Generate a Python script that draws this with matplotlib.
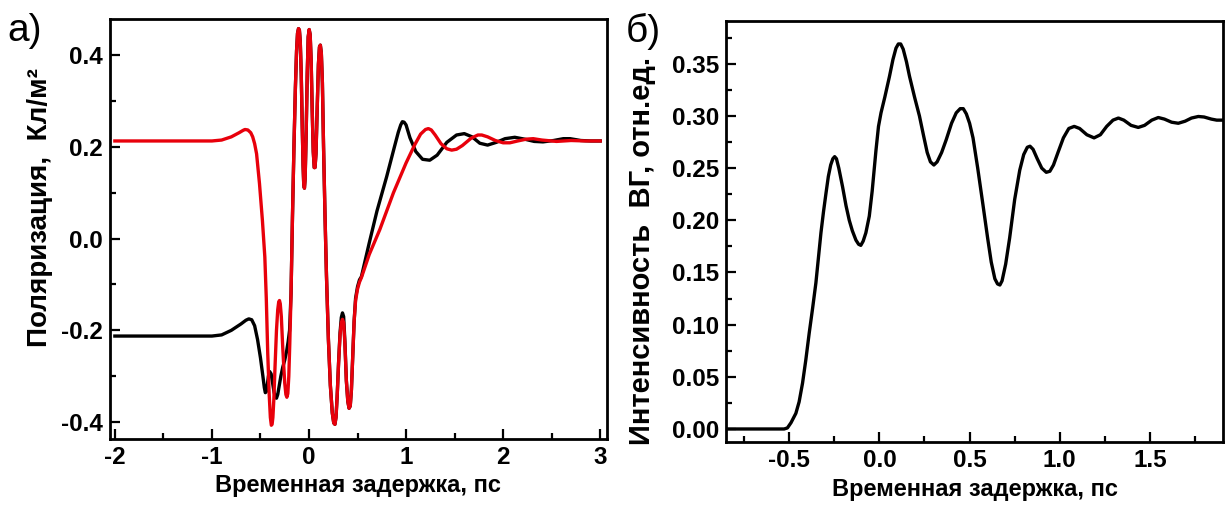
import matplotlib
matplotlib.use("Agg")
import matplotlib.pyplot as plt
from matplotlib.ticker import MultipleLocator, FormatStrFormatter

plt.rcParams['font.family'] = ['Liberation Sans', 'DejaVu Sans']

# ---- panel a): polarization vs delay ----
red_x = [-2.00, -1.50, -1.00, -0.90, -0.80, -0.72, -0.68, -0.66, -0.63, -0.60,
         -0.58, -0.56, -0.54, -0.51, -0.48, -0.455, -0.44, -0.425, -0.41, -0.398,
         -0.388, -0.38, -0.372, -0.362, -0.35, -0.335, -0.322, -0.312, -0.304, -0.296,
         -0.285, -0.27, -0.25, -0.238, -0.228, -0.218, -0.208, -0.198, -0.185, -0.17,
         -0.155, -0.14, -0.128, -0.118, -0.108, -0.099, -0.09, -0.08, -0.07, -0.061,
         -0.054, -0.047, -0.04, -0.03, -0.018, -0.008, 0.002, 0.012, 0.022, 0.033,
         0.044, 0.054, 0.062, 0.072, 0.084, 0.097, 0.108, 0.117, 0.127, 0.138,
         0.15, 0.165, 0.18, 0.20, 0.22, 0.24, 0.255, 0.267, 0.278, 0.29,
         0.305, 0.32, 0.333, 0.345, 0.357, 0.37, 0.385, 0.40, 0.413, 0.425,
         0.437, 0.45, 0.465, 0.48, 0.50, 0.52, 0.54, 0.62, 0.73, 0.87,
         1.00, 1.09, 1.15, 1.20, 1.23, 1.26, 1.30, 1.36, 1.42, 1.47,
         1.52, 1.58, 1.67, 1.74, 1.78, 1.84, 1.92, 2.00, 2.07, 2.15,
         2.24, 2.31, 2.40, 2.55, 2.70, 2.85, 3.00]
red_y = [0.213, 0.213, 0.213, 0.215, 0.222, 0.231, 0.236, 0.238, 0.237, 0.231,
         0.222, 0.207, 0.185, 0.12, 0.04, -0.04, -0.13, -0.25, -0.34, -0.39,
         -0.407, -0.405, -0.39, -0.35, -0.28, -0.20, -0.155, -0.138, -0.135, -0.142,
         -0.17, -0.24, -0.315, -0.34, -0.346, -0.338, -0.30, -0.23, -0.12, 0.05,
         0.20, 0.33, 0.41, 0.448, 0.458, 0.455, 0.43, 0.36, 0.25, 0.16,
         0.118, 0.11, 0.13, 0.22, 0.36, 0.44, 0.456, 0.445, 0.39, 0.28,
         0.19, 0.155, 0.155, 0.185, 0.28, 0.38, 0.418, 0.422, 0.405, 0.34,
         0.20, 0.05, -0.08, -0.22, -0.32, -0.38, -0.402, -0.405, -0.39, -0.345,
         -0.27, -0.21, -0.183, -0.176, -0.183, -0.23, -0.31, -0.355, -0.37, -0.365,
         -0.33, -0.26, -0.18, -0.135, -0.11, -0.095, -0.085, -0.035, 0.02, 0.10,
         0.165, 0.205, 0.228, 0.238, 0.240, 0.237, 0.226, 0.207, 0.196, 0.193,
         0.195, 0.203, 0.219, 0.226, 0.226, 0.222, 0.214, 0.209, 0.209, 0.213,
         0.217, 0.218, 0.215, 0.212, 0.214, 0.213, 0.213]

black_x = [-2.00, -1.50, -1.00, -0.90, -0.80, -0.70, -0.65, -0.62, -0.59, -0.56,
           -0.53, -0.50, -0.475, -0.46, -0.45, -0.44, -0.43, -0.418, -0.405, -0.39,
           -0.375, -0.36, -0.345, -0.335, -0.322, -0.31, -0.29, -0.27, -0.25, -0.23,
           -0.215, -0.20, -0.185, -0.17, -0.155, -0.14, -0.128, -0.118, -0.108, -0.099,
           -0.09, -0.08, -0.07, -0.061, -0.054, -0.047, -0.04, -0.03, -0.018, -0.008,
           0.002, 0.012, 0.022, 0.033, 0.044, 0.054, 0.062, 0.072, 0.084, 0.097,
           0.108, 0.117, 0.127, 0.138, 0.15, 0.165, 0.18, 0.20, 0.22, 0.24,
           0.255, 0.267, 0.278, 0.29, 0.305, 0.32, 0.333, 0.345, 0.357, 0.37,
           0.385, 0.40, 0.413, 0.425, 0.437, 0.45, 0.465, 0.48, 0.50, 0.52,
           0.54, 0.62, 0.70, 0.80, 0.88, 0.92, 0.945, 0.962, 0.98, 1.00,
           1.04, 1.10, 1.17, 1.244, 1.32, 1.42, 1.52, 1.60, 1.68, 1.76,
           1.84, 1.93, 2.02, 2.12, 2.22, 2.32, 2.41, 2.52, 2.62, 2.69,
           2.80, 2.90, 3.00]
black_y = [-0.2125, -0.2125, -0.2125, -0.21, -0.20, -0.186, -0.178, -0.175, -0.177, -0.19,
           -0.22, -0.26, -0.30, -0.325, -0.336, -0.334, -0.32, -0.30, -0.29, -0.295,
           -0.315, -0.335, -0.347, -0.348, -0.34, -0.325, -0.30, -0.28, -0.265, -0.245,
           -0.225, -0.20, -0.12, 0.05, 0.20, 0.33, 0.41, 0.448, 0.458, 0.455,
           0.43, 0.36, 0.25, 0.16, 0.118, 0.11, 0.13, 0.22, 0.36, 0.44,
           0.456, 0.445, 0.39, 0.28, 0.19, 0.155, 0.155, 0.185, 0.28, 0.38,
           0.418, 0.422, 0.405, 0.34, 0.20, 0.05, -0.08, -0.22, -0.32, -0.38,
           -0.402, -0.405, -0.39, -0.345, -0.27, -0.205, -0.172, -0.162, -0.17, -0.225,
           -0.31, -0.355, -0.37, -0.365, -0.33, -0.26, -0.18, -0.13, -0.105, -0.09,
           -0.083, -0.01, 0.06, 0.135, 0.20, 0.232, 0.248, 0.255, 0.254, 0.248,
           0.22, 0.19, 0.173, 0.171, 0.182, 0.21, 0.226, 0.229, 0.222, 0.208,
           0.204, 0.21, 0.218, 0.221, 0.217, 0.212, 0.211, 0.214, 0.218, 0.218,
           0.214, 0.213, 0.213]

# ---- panel б): SHG intensity vs delay ----
shg_x = [-0.85, -0.70, -0.60, -0.528, -0.51, -0.49, -0.463, -0.445, -0.426, -0.408,
         -0.389, -0.37, -0.352, -0.338, -0.324, -0.31, -0.296, -0.283, -0.27, -0.258,
         -0.248, -0.238, -0.225, -0.204, -0.185, -0.167, -0.15, -0.13, -0.115, -0.103,
         -0.09, -0.075, -0.056, -0.04, -0.019, -0.005, 0.009, 0.03, 0.056, 0.075,
         0.092, 0.105, 0.118, 0.132, 0.15, 0.167, 0.195, 0.222, 0.245, 0.265,
         0.283, 0.302, 0.32, 0.345, 0.37, 0.40, 0.426, 0.448, 0.465, 0.482,
         0.50, 0.519, 0.545, 0.574, 0.60, 0.62, 0.64, 0.655, 0.668, 0.68,
         0.70, 0.722, 0.75, 0.778, 0.80, 0.82, 0.835, 0.852, 0.875, 0.90,
         0.925, 0.945, 0.965, 0.99, 1.02, 1.05, 1.08, 1.11, 1.15, 1.19,
         1.225, 1.26, 1.295, 1.325, 1.355, 1.395, 1.435, 1.47, 1.51, 1.546,
         1.58, 1.62, 1.657, 1.695, 1.73, 1.768, 1.80, 1.84, 1.87, 1.905]
shg_y = [0.0, 0.0, 0.0, 0.0, 0.001, 0.006, 0.015, 0.026, 0.044, 0.066,
         0.092, 0.116, 0.14, 0.164, 0.188, 0.208, 0.226, 0.242, 0.253, 0.259,
         0.261, 0.259, 0.25, 0.232, 0.214, 0.20, 0.19, 0.181, 0.177, 0.176,
         0.18, 0.188, 0.204, 0.228, 0.267, 0.29, 0.303, 0.318, 0.338, 0.354,
         0.365, 0.369, 0.369, 0.364, 0.352, 0.338, 0.318, 0.30, 0.281, 0.265,
         0.256, 0.253, 0.256, 0.265, 0.277, 0.293, 0.303, 0.307, 0.307, 0.302,
         0.293, 0.279, 0.25, 0.215, 0.183, 0.16, 0.144, 0.139, 0.138, 0.142,
         0.158, 0.183, 0.22, 0.248, 0.263, 0.27, 0.271, 0.268, 0.259, 0.25,
         0.246, 0.247, 0.253, 0.265, 0.279, 0.288, 0.29, 0.288, 0.282, 0.279,
         0.282, 0.29, 0.296, 0.298, 0.296, 0.291, 0.289, 0.291, 0.296, 0.2985,
         0.297, 0.294, 0.293, 0.295, 0.298, 0.2995, 0.299, 0.297, 0.296, 0.296]

fig = plt.figure(figsize=(12.25, 5.15), dpi=100)
ax1 = fig.add_axes([0.0898, 0.1476, 0.4057, 0.8155])
ax2 = fig.add_axes([0.5927, 0.1417, 0.4057, 0.8175])

LW = 2.4
ax1.plot(black_x, black_y, color="black", linewidth=LW)
ax1.plot(red_x, red_y, color="#e8000b", linewidth=LW)
ax2.plot(shg_x, shg_y, color="black", linewidth=LW)

ax1.set_xlim(-2.05, 3.07)
ax1.set_ylim(-0.437, 0.479)
ax1.xaxis.set_major_locator(MultipleLocator(1))
ax1.xaxis.set_minor_locator(MultipleLocator(0.5))
ax1.yaxis.set_major_locator(MultipleLocator(0.2))
ax1.yaxis.set_minor_locator(MultipleLocator(0.1))
ax1.xaxis.set_major_formatter(FormatStrFormatter('%d'))
ax1.yaxis.set_major_formatter(FormatStrFormatter('%.1f'))

ax2.set_xlim(-0.85, 1.905)
ax2.set_ylim(-0.0125, 0.391)
ax2.xaxis.set_major_locator(MultipleLocator(0.5))
ax2.xaxis.set_minor_locator(MultipleLocator(0.25))
ax2.yaxis.set_major_locator(MultipleLocator(0.05))
ax2.yaxis.set_minor_locator(MultipleLocator(0.025))
ax2.xaxis.set_major_formatter(FormatStrFormatter('%.1f'))
ax2.yaxis.set_major_formatter(FormatStrFormatter('%.2f'))

for ax in (ax1, ax2):
    for s in ax.spines.values():
        s.set_linewidth(2.0)
    ax.tick_params(which="major", direction="in", length=7, width=1.6,
                   labelsize=17.5, top=False, right=False, pad=5)
    ax.tick_params(which="minor", direction="in", length=4, width=1.6,
                   top=False, right=False)
    for lab in ax.get_xticklabels() + ax.get_yticklabels():
        lab.set_fontweight("bold")
    ax.set_xlabel("Временная задержка, пс", fontsize=17, fontweight="bold", labelpad=4)

ax1.set_ylabel("Поляризация,  Кл/м²", fontsize=20, fontweight="bold")
ax1.yaxis.set_label_coords(-0.115, 0.55)
ax2.set_ylabel("Интенсивность  ВГ, отн.ед.", fontsize=21, fontweight="bold")
ax2.yaxis.set_label_coords(-0.14, 0.455)

fig.text(0.006, 0.975, "а)", fontsize=28, va="top", ha="left")
fig.text(0.511, 0.975, "б)", fontsize=28, va="top", ha="left")

fig.savefig("out.png", dpi=100)
